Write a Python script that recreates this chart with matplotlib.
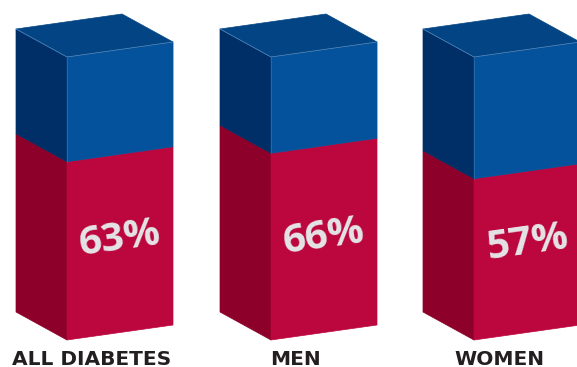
import numpy as np
import matplotlib
matplotlib.use('Agg')
import matplotlib.pyplot as plt
from matplotlib.patches import Polygon

categories = ['ALL DIABETES', 'MEN', 'WOMEN']
shares = [63, 66, 57]
total = 100
left_edges = [16, 220, 423]

RED_FRONT = '#bc073e'
RED_SIDE = '#8c0029'
BLUE_FRONT = '#04529b'
BLUE_SIDE = '#002e66'
BLUE_TOP = '#034584'
EDGE = '#6f9fd0'

# box shape in pixels, heights in percent units
side_w = 51
front_w = 106
px_per_unit = 2.83
side_rise = 28 / px_per_unit
front_rise = 15 / px_per_unit

fig = plt.figure(figsize=(5.77, 3.67), dpi=100)
ax = fig.add_axes([0, 0, 1, 1])
ax.set_xlim(0, 577)
ax.set_ylim(-27 / px_per_unit, 340 / px_per_unit)
ax.axis('off')


def face(points, color, edge=None):
    ax.add_patch(Polygon(points, closed=True, facecolor=color,
                         edgecolor=edge if edge else color, linewidth=0.5))


for name, share, x0 in zip(categories, shares, left_edges):
    xf = x0 + side_w
    xr = xf + front_w
    # left side
    face([(x0, side_rise), (xf, 0), (xf, share), (x0, share + side_rise)], RED_SIDE)
    face([(x0, share + side_rise), (xf, share), (xf, total), (x0, total + side_rise)], BLUE_SIDE)
    # front
    face([(xf, 0), (xr, front_rise), (xr, share + front_rise), (xf, share)], RED_FRONT)
    face([(xf, share), (xr, share + front_rise), (xr, total + front_rise), (xf, total)], BLUE_FRONT)
    # top
    face([(x0, total + side_rise), (xf, total), (xr, total + front_rise),
          (xr - side_w, total + front_rise + side_rise)], BLUE_TOP)
    ax.plot([x0, xf, xr], [total + side_rise, total, total + front_rise],
            color=EDGE, lw=0.5, alpha=0.8)
    ax.plot([xf, xf], [share, total], color=EDGE, lw=0.4, alpha=0.5)
    ax.plot([xr, xr], [share + front_rise, total + front_rise], color=EDGE, lw=0.4, alpha=0.6)

    ax.text(xf + 53, 35.6 + 0.24 * (share - 63), '%d%%' % share, color='#e4e5e7', fontsize=29,
            family='Open Sans', weight='bold', ha='center', va='center',
            rotation=8, rotation_mode='anchor')
    ax.text(x0 + 76, -8.7, name, color='#231f20', fontsize=14.5,
            family='DejaVu Sans', weight='bold', ha='center', va='baseline')

fig.savefig('out.png', dpi=100)
